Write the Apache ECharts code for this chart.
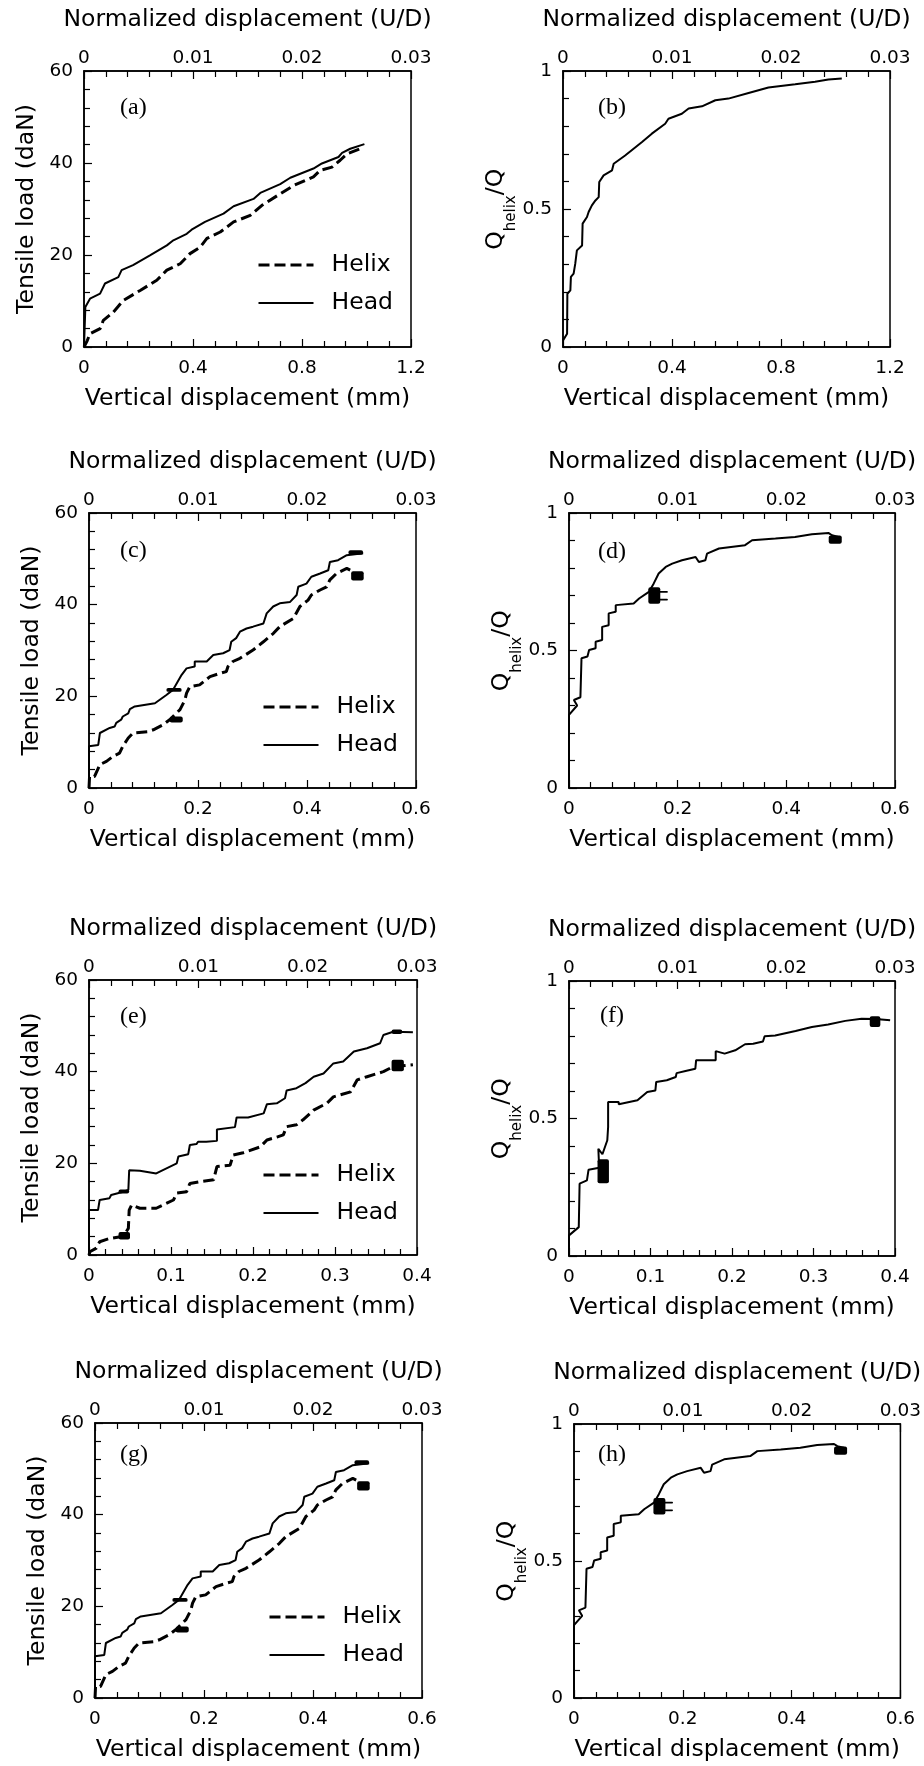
<!DOCTYPE html>
<html>
<head>
<meta charset="utf-8">
<script src="https://cdn.jsdelivr.net/npm/echarts@6/dist/echarts.min.js"></script>
<style>
  html, body { margin: 0; padding: 0; background: #fff; }
  #chart { width: 924px; height: 1766px; }
</style>
</head>
<body>
<div id="chart"></div>
<script>
// ---------- tick label sets ----------
const normTicks = [0, 0.01, 0.02, 0.03];
const loadTicks = [0, 20, 40, 60];
const ratioTicks = [0, 0.5, 1];
const dispTicksA = [0, 0.4, 0.8, 1.2];
const dispTicksC = [0, 0.2, 0.4, 0.6];
const dispTicksE = [0, 0.1, 0.2, 0.3, 0.4];

// ---------- panel (a) ----------
const aHead = [[0,0],[0.005,8.7],[0.022,10.5],[0.059,11.6],[0.077,13.8],[0.126,15.2],[0.138,16.7],[0.18,17.8],[0.242,19.9],[0.304,22.1],[0.328,23.2],[0.377,24.6],[0.395,25.5],[0.444,27.2],[0.512,29],[0.549,30.6],[0.622,32.2],[0.647,33.5],[0.72,35.4],[0.757,36.8],[0.842,38.8],[0.873,39.9],[0.934,41.3],[0.947,42.2],[0.977,43.1],[1.029,44.1]];
const aHelix = [[0,0],[0.012,1.4],[0.022,2.9],[0.059,4],[0.071,5.8],[0.108,7.6],[0.144,10.1],[0.206,12.3],[0.267,14.5],[0.304,16.7],[0.353,18.1],[0.389,20.3],[0.426,21.7],[0.451,23.6],[0.5,25],[0.549,27.2],[0.61,28.6],[0.653,30.8],[0.72,33.3],[0.769,35.1],[0.842,37],[0.867,38.4],[0.91,39.1],[0.94,40.6],[0.965,42],[1.014,43.1]];

// ---------- panel (b) ----------
const bRatio = [[0,0.024],[0.015,0.048],[0.016,0.193],[0.027,0.205],[0.029,0.254],[0.039,0.266],[0.045,0.302],[0.051,0.35],[0.07,0.368],[0.072,0.447],[0.088,0.471],[0.094,0.489],[0.106,0.513],[0.119,0.531],[0.131,0.543],[0.133,0.598],[0.149,0.622],[0.18,0.64],[0.186,0.664],[0.228,0.694],[0.29,0.743],[0.326,0.773],[0.375,0.809],[0.387,0.827],[0.436,0.845],[0.461,0.864],[0.51,0.872],[0.559,0.894],[0.607,0.9],[0.681,0.92],[0.754,0.94],[0.852,0.952],[0.925,0.961],[0.974,0.969],[1.023,0.973]];

// ---------- panel (c) ----------
const cHead = [[0,0],[0,9.1],[0.017,9.4],[0.02,12],[0.038,13.1],[0.047,13.4],[0.05,14.2],[0.059,14.9],[0.062,15.6],[0.072,16.3],[0.075,17.2],[0.084,17.8],[0.087,18.1],[0.121,18.5],[0.142,20.3],[0.154,21.4],[0.17,24.7],[0.179,26.1],[0.194,26.5],[0.194,27.6],[0.216,27.6],[0.228,29],[0.246,29.4],[0.258,30.1],[0.261,31.9],[0.27,32.7],[0.277,34.1],[0.289,34.8],[0.301,35.2],[0.32,35.9],[0.326,38.1],[0.338,39.6],[0.35,40.3],[0.369,40.6],[0.381,42.1],[0.384,43.9],[0.399,44.6],[0.408,46.1],[0.424,46.8],[0.439,47.5],[0.442,49.3],[0.457,49.7],[0.473,50.8],[0.503,51.2]];
const cHelix = [[0,0],[0.001,2.5],[0.01,2.5],[0.013,2.9],[0.02,5.1],[0.032,5.8],[0.044,6.9],[0.056,7.6],[0.062,9.1],[0.072,10.9],[0.081,12],[0.108,12.3],[0.118,12.7],[0.136,13.8],[0.148,14.9],[0.167,17.1],[0.176,19.2],[0.179,20.7],[0.185,22.1],[0.203,22.5],[0.222,24.3],[0.24,25],[0.252,25.4],[0.255,26.5],[0.264,27.6],[0.277,28.3],[0.301,30.1],[0.32,31.9],[0.338,33.7],[0.35,35.2],[0.375,37],[0.387,39.6],[0.402,41],[0.408,42.1],[0.424,43.2],[0.436,43.9],[0.442,45.4],[0.454,46.8],[0.473,47.9],[0.485,47.2],[0.491,46.1],[0.503,45.7]];
// blobs: [xFrom, xTo, yFrom, yTo]
const cBlobs = [[0.142,0.17,21.0,21.8],[0.148,0.172,14.3,15.6],[0.476,0.503,50.9,51.9],[0.481,0.504,45.3,47.3]];

// ---------- panel (d) ----------
const dRatio = [[0,0],[0,0.266],[0.015,0.3],[0.009,0.32],[0.021,0.33],[0.023,0.335],[0.023,0.472],[0.034,0.478],[0.037,0.502],[0.049,0.508],[0.049,0.532],[0.061,0.538],[0.061,0.586],[0.073,0.592],[0.073,0.635],[0.086,0.641],[0.086,0.665],[0.119,0.671],[0.129,0.689],[0.147,0.713],[0.156,0.744],[0.165,0.78],[0.178,0.804],[0.19,0.816],[0.193,0.822],[0.208,0.828],[0.233,0.84],[0.239,0.822],[0.251,0.828],[0.254,0.852],[0.276,0.871],[0.324,0.883],[0.337,0.901],[0.38,0.907],[0.416,0.913],[0.447,0.923],[0.478,0.927],[0.484,0.919],[0.496,0.913]];
const dBlobs = [[0.146,0.168,0.67,0.73],[0.165,0.182,0.682,0.688],[0.165,0.182,0.71,0.716],[0.478,0.502,0.888,0.918]];

// ---------- panel (e) ----------
const eHead = [[0,0],[0,9.8],[0.011,9.8],[0.013,12],[0.025,12.4],[0.027,13.1],[0.042,13.8],[0.048,14.2],[0.049,18.5],[0.062,18.4],[0.082,17.8],[0.107,20],[0.109,21.5],[0.121,22],[0.123,24],[0.131,24.2],[0.133,24.7],[0.143,24.7],[0.156,24.9],[0.156,27.4],[0.178,27.9],[0.18,30],[0.194,30],[0.213,30.9],[0.217,32.9],[0.229,33.1],[0.239,34.2],[0.241,35.9],[0.253,36.4],[0.264,37.5],[0.274,38.9],[0.286,39.6],[0.298,41.8],[0.31,42.2],[0.323,44.4],[0.339,45.1],[0.355,46.2],[0.359,48],[0.371,48.7],[0.395,48.6]];
const eHelix = [[0,0],[0.001,0.7],[0.009,1.5],[0.013,2.9],[0.025,3.6],[0.042,4.1],[0.048,5.8],[0.049,9.8],[0.052,10.9],[0.062,10.2],[0.082,10.2],[0.103,12],[0.107,13.5],[0.119,13.8],[0.123,15.6],[0.135,16],[0.152,16.4],[0.156,19.3],[0.172,19.6],[0.176,21.8],[0.188,22.3],[0.209,23.6],[0.217,25.1],[0.229,25.7],[0.237,26.2],[0.241,28],[0.253,28.4],[0.261,29.5],[0.274,31.6],[0.29,33.1],[0.298,34.5],[0.319,35.6],[0.327,38.2],[0.339,38.9],[0.359,40],[0.371,41.1],[0.395,41.5]];
const eBlobs = [[0.036,0.049,13.4,14.3],[0.036,0.05,3.4,5.0],[0.369,0.382,48.2,49.2],[0.369,0.384,40.1,42.6]];

// ---------- panel (f) ----------
const fRatio = [[0,0],[0,0.075],[0.012,0.105],[0.013,0.263],[0.022,0.275],[0.024,0.314],[0.037,0.321],[0.036,0.39],[0.041,0.37],[0.047,0.421],[0.048,0.469],[0.048,0.56],[0.061,0.56],[0.061,0.552],[0.084,0.566],[0.096,0.596],[0.106,0.602],[0.107,0.633],[0.12,0.639],[0.131,0.651],[0.132,0.665],[0.143,0.673],[0.155,0.681],[0.156,0.712],[0.18,0.712],[0.18,0.745],[0.191,0.736],[0.204,0.748],[0.216,0.77],[0.226,0.772],[0.238,0.78],[0.24,0.799],[0.253,0.802],[0.278,0.818],[0.298,0.833],[0.318,0.842],[0.339,0.855],[0.359,0.863],[0.376,0.862],[0.394,0.857]];
const fBlobs = [[0.035,0.049,0.265,0.352],[0.369,0.382,0.833,0.872]];

// ---------- panels (g) and (h): same test as (c) and (d) ----------
const gHead = cHead, gHelix = cHelix, gBlobs = cBlobs;
const hRatio = dRatio, hBlobs = dBlobs;

// ---------- build option ----------
const SANS = 'DejaVu Sans';
const TICK_FS = 18.5, NAME_FS = 23.5;
const DASHED = { color: '#000', width: 3, type: [11, 5] };
const SOLID = { color: '#000', width: 2, type: 'solid' };
const fmt = v => String(parseFloat(Number(v).toPrecision(6)));

const option = {
  backgroundColor: '#fff',
  animation: false,
  grid: [], xAxis: [], yAxis: [], series: [], legend: [], title: []
};

function axisBase(ticks) {
  return {
    type: 'value',
    min: ticks[0], max: ticks[ticks.length - 1], interval: ticks[1] - ticks[0],
    axisLine: { show: true, onZero: false, lineStyle: { color: '#000', width: 1.5 } },
    axisTick: { show: true, inside: true, length: 8, lineStyle: { color: '#000', width: 1.2 } },
    minorTick: { show: true, splitNumber: 5, length: 6, lineStyle: { color: '#000', width: 1.2 } },
    splitLine: { show: false }, minorSplitLine: { show: false },
    axisLabel: { fontFamily: SANS, fontSize: TICK_FS, color: '#000', formatter: fmt },
    nameLocation: 'middle',
    nameTextStyle: { fontFamily: SANS, fontSize: NAME_FS, color: '#000' }
  };
}

function addPanel(p) {
  const gi = option.grid.length;
  option.grid.push(Object.assign({ show: true, borderColor: '#000', borderWidth: 1.5, backgroundColor: 'transparent' }, p.grid));
  const xb = axisBase(p.xTicks);
  Object.assign(xb, { gridIndex: gi, position: 'bottom', name: 'Vertical displacement (mm)', nameGap: 40 });
  xb.axisLabel.margin = 12;
  const xt = axisBase(normTicks);
  Object.assign(xt, { gridIndex: gi, position: 'top', name: 'Normalized displacement (U/D)', nameGap: 39 });
  xt.axisLabel.margin = 3;
  const y = axisBase(p.yTicks);
  Object.assign(y, { gridIndex: gi, position: 'left' });
  y.axisLabel.margin = 11;
  if (p.ratio) {
    y.name = '{q|Q}{s|helix}{q|/Q}{sp| }';
    y.nameGap = 36;
    y.nameTextStyle = {
      rich: {
        q: { fontFamily: SANS, fontSize: NAME_FS, color: '#000', lineHeight: 26, verticalAlign: 'top' },
        s: { fontFamily: SANS, fontSize: 15, color: '#000', lineHeight: 14, verticalAlign: 'bottom' },
        sp: { fontSize: 2, lineHeight: 35 }
      }
    };
  } else {
    y.name = 'Tensile load (daN)';
    y.nameGap = 45;
  }
  const xi = option.xAxis.length;
  option.xAxis.push(xb, xt);
  const yi = option.yAxis.length;
  option.yAxis.push(y);

  p.lines.forEach(l => {
    option.series.push({
      type: 'line', name: l.name, xAxisIndex: xi, yAxisIndex: yi,
      data: l.data, symbol: 'none', showSymbol: false, silent: true,
      lineStyle: l.dashed ? DASHED : SOLID,
      itemStyle: { color: '#000' }
    });
  });
  if (p.blobs) {
    option.series.push({
      type: 'custom', xAxisIndex: xi, yAxisIndex: yi, data: p.blobs, silent: true,
      encode: { x: [0, 1], y: [2, 3] },
      renderItem: (params, api) => {
        const a = api.coord([api.value(0), api.value(3)]);
        const b = api.coord([api.value(1), api.value(2)]);
        return { type: 'rect', shape: { x: a[0], y: a[1], width: b[0] - a[0], height: b[1] - a[1], r: 2 }, style: { fill: '#000' } };
      }
    });
  }
  if (p.legend) {
    option.legend.push({
      orient: 'vertical', left: p.legend.left, top: p.legend.top, padding: 0,
      itemWidth: 55, itemHeight: 24, itemGap: 14, selectedMode: false,
      data: [{ name: 'Helix', lineStyle: DASHED }, { name: 'Head', lineStyle: SOLID }],
      itemStyle: { opacity: 0 },
      textStyle: { fontFamily: SANS, fontSize: NAME_FS, color: '#000', padding: [0, 0, 0, 13] }
    });
  }
  option.title.push({
    text: p.label.text, left: p.label.left, top: p.label.top, padding: 0,
    textStyle: { fontFamily: 'Liberation Serif', fontSize: 24, fontWeight: 'normal', color: '#000' }
  });
}

addPanel({ grid: { left: 84, top: 71, width: 327, height: 276 }, xTicks: dispTicksA, yTicks: loadTicks,
  lines: [{ name: 'Helix', data: aHelix, dashed: true }, { name: 'Head', data: aHead }],
  legend: { left: 257, top: 253 }, label: { text: '(a)', left: 120, top: 96 } });
addPanel({ grid: { left: 563, top: 71, width: 327, height: 276 }, xTicks: dispTicksA, yTicks: ratioTicks, ratio: true,
  lines: [{ name: 'Ratio', data: bRatio }], label: { text: '(b)', left: 598, top: 96 } });
addPanel({ grid: { left: 89, top: 513, width: 327, height: 275 }, xTicks: dispTicksC, yTicks: loadTicks,
  lines: [{ name: 'Helix', data: cHelix, dashed: true }, { name: 'Head', data: cHead }], blobs: cBlobs,
  legend: { left: 262, top: 695 }, label: { text: '(c)', left: 120, top: 539 } });
addPanel({ grid: { left: 569, top: 513, width: 326, height: 275 }, xTicks: dispTicksC, yTicks: ratioTicks, ratio: true,
  lines: [{ name: 'Ratio', data: dRatio }], blobs: dBlobs, label: { text: '(d)', left: 598, top: 540 } });
addPanel({ grid: { left: 89, top: 980, width: 328, height: 275 }, xTicks: dispTicksE, yTicks: loadTicks,
  lines: [{ name: 'Helix', data: eHelix, dashed: true }, { name: 'Head', data: eHead }], blobs: eBlobs,
  legend: { left: 262, top: 1163 }, label: { text: '(e)', left: 120, top: 1005 } });
addPanel({ grid: { left: 569, top: 981, width: 326, height: 275 }, xTicks: dispTicksE, yTicks: ratioTicks, ratio: true,
  lines: [{ name: 'Ratio', data: fRatio }], blobs: fBlobs, label: { text: '(f)', left: 600, top: 1004 } });
addPanel({ grid: { left: 95, top: 1423, width: 327, height: 275 }, xTicks: dispTicksC, yTicks: loadTicks,
  lines: [{ name: 'Helix', data: gHelix, dashed: true }, { name: 'Head', data: gHead }], blobs: gBlobs,
  legend: { left: 268, top: 1605 }, label: { text: '(g)', left: 120, top: 1443 } });
addPanel({ grid: { left: 574, top: 1424, width: 327, height: 274 }, xTicks: dispTicksC, yTicks: ratioTicks, ratio: true,
  lines: [{ name: 'Ratio', data: hRatio }], blobs: hBlobs, label: { text: '(h)', left: 598, top: 1443 } });

const chart = echarts.init(document.getElementById('chart'), null, { renderer: 'canvas' });
chart.setOption(option);
</script>
</body>
</html>
